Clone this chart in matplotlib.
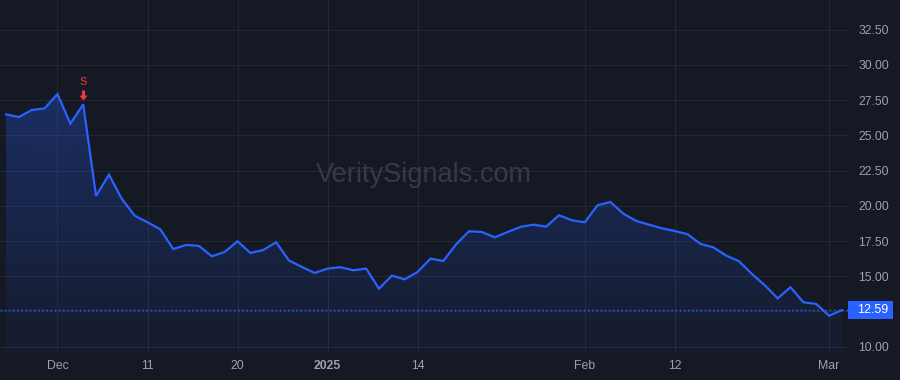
import numpy as np
import matplotlib.pyplot as plt
from matplotlib.patches import Rectangle
from matplotlib.path import Path
from matplotlib.transforms import blended_transform_factory

# daily closes, one per trading day (Nov 25 2024 .. Mar 4 2025)
closes = [
    26.49, 26.30, 26.80, 26.92, 27.93, 25.83, 27.20, 20.70, 22.21, 20.50,
    19.30, 18.83, 18.33, 16.93, 17.22, 17.15, 16.42, 16.72, 17.48, 16.65,
    16.86, 17.41, 16.12, 15.66, 15.23, 15.54, 15.64, 15.42, 15.54, 14.12,
    15.04, 14.78, 15.30, 16.25, 16.08, 17.27, 18.19, 18.14, 17.76, 18.14,
    18.50, 18.66, 18.52, 19.33, 18.97, 18.83, 20.04, 20.27, 19.44, 18.92,
    18.66, 18.40, 18.21, 17.98, 17.29, 17.05, 16.46, 16.06, 15.16, 14.36,
    13.43, 14.22, 13.15, 13.03, 12.20, 12.59,
]
last_price = 12.59

# x tick labels sit on bar indices (trading days only)
tick_bars = [4, 11, 18, 25, 32, 45, 52, 64]
tick_labels = ["Dec", "11", "20", "2025", "14", "Feb", "12", "Mar"]
y_ticks = [10.0, 12.5, 15.0, 17.5, 20.0, 22.5, 25.0, 27.5, 30.0, 32.5]
y_tick_labels = ["10.00", "", "15.00", "17.50", "20.00", "22.50", "25.00", "27.50", "30.00", "32.50"]

# sell signal
signal_bar = 6
signal_label = "S"

bg = "#151924"
grid = "#242833"
text_col = "#9ea1aa"
blue = "#2962ff"
red = "#f23645"

plt.rcParams["font.family"] = ["Liberation Sans", "DejaVu Sans"]

W, H = 900, 380
fig = plt.figure(figsize=(W / 100, H / 100), dpi=100, facecolor=bg)
ax = fig.add_axes([0, 1 - 352 / H, 848 / W, 352 / H], facecolor=bg)

x = np.arange(len(closes))
y = np.array(closes)

ax.set_xlim(-0.47, 65.47)
ax.set_ylim(9.62, 34.61)

# gradient area under the line
poly = ax.fill_between(x, y, 9.62, color="none", lw=0)
grad = np.linspace(0.30, 0.04, 256).reshape(-1, 1)
rgba = np.zeros((256, 1, 4))
rgba[..., 0], rgba[..., 1], rgba[..., 2] = 41 / 255, 98 / 255, 255 / 255
rgba[..., 3] = grad
im = ax.imshow(rgba, extent=[-0.47, 65.47, 9.62, 28.5], aspect="auto", origin="upper", zorder=1)
im.set_clip_path(poly.get_paths()[0], transform=ax.transData)

ax.plot(x, y, color=blue, lw=1.6, zorder=3, solid_joinstyle="miter")

# last price dotted line + label
ax.axhline(last_price, color=blue, lw=1.0, linestyle=(0, (1.2, 1.8)), zorder=2)
tr = blended_transform_factory(fig.transFigure, ax.transData)
ax.add_patch(Rectangle((848 / W, last_price - 0.64), 45 / W, 1.28, transform=tr,
                       facecolor=blue, edgecolor="none", clip_on=False, zorder=5))
ax.text(857 / W, last_price, f"{last_price:.2f}", transform=tr, color="white",
        fontsize=9, ha="left", va="center", zorder=6, clip_on=False)

# signal marker: down arrow sitting just above the point
arrow = Path([(-1.6, 14), (1.6, 14), (1.6, 9), (4.2, 9), (0, 4), (-4.2, 9), (-1.6, 9), (-1.6, 14),
              (-14, 0), (14, 0)],
             [Path.MOVETO] + [Path.LINETO] * 6 + [Path.CLOSEPOLY, Path.MOVETO, Path.MOVETO])
sv = closes[signal_bar]
ax.plot([signal_bar], [sv], marker=arrow, markersize=28 * 0.72, color=red, mew=0, ls="none", zorder=6)
ax.annotate(signal_label, xy=(signal_bar, sv), xytext=(0, 22), textcoords="offset pixels",
            color=red, fontsize=8, ha="center", va="center")

# watermark
fig.text(424 / W, 1 - 182 / H, "VeritySignals.com", color="#363a45", fontsize=19.5,
         ha="center", va="baseline")

# axes styling
for s in ax.spines.values():
    s.set_visible(False)
ax.yaxis.tick_right()
ax.set_yticks(y_ticks)
ax.set_yticklabels(y_tick_labels)
ax.set_xticks(tick_bars)
ax.set_xticklabels(tick_labels)
ax.tick_params(axis="y", length=0, pad=7.5, colors=text_col, labelsize=8.8)
ax.tick_params(axis="x", length=0, pad=6, colors=text_col, labelsize=8.8)
for lab in ax.get_xticklabels():
    if lab.get_text() == "2025":
        lab.set_fontweight("bold")
ax.grid(True, color=grid, lw=0.8)
ax.set_axisbelow(True)

fig.savefig("out.png", dpi=100, facecolor=bg)
